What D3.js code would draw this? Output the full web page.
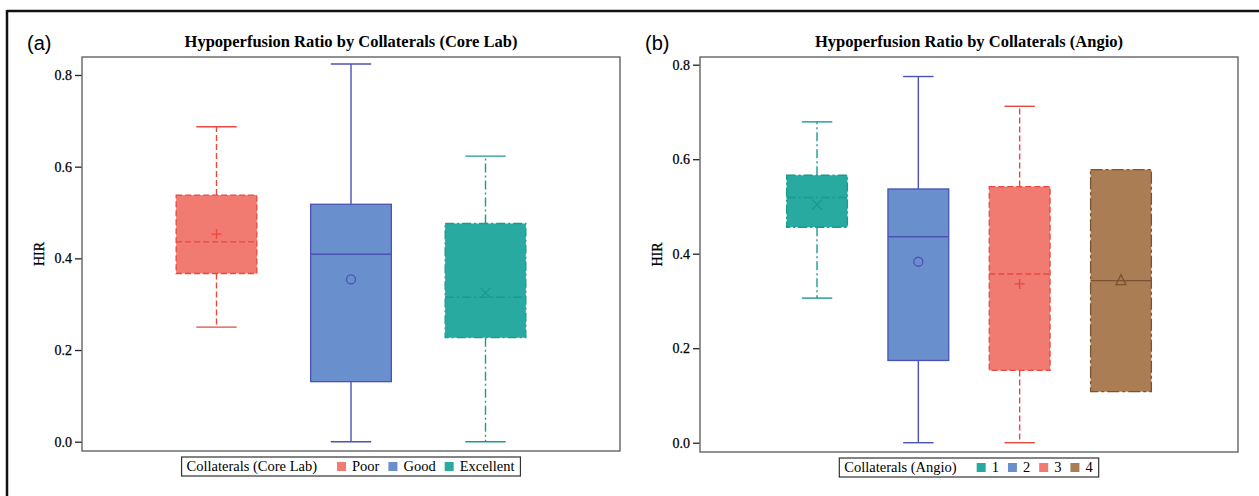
<!DOCTYPE html>
<html>
<head>
<meta charset="utf-8">
<script src="https://cdn.jsdelivr.net/npm/d3@7"></script>
<style>
  body { margin: 0; background: #fff; }
  svg { display: block; }
  .serif { font-family: "Liberation Serif", "Times New Roman", Times, serif; }
  .sans { font-family: "Liberation Sans", Arial, sans-serif; }
</style>
</head>
<body>
<script>
const W = 1259
const H = 496

// panel (a): collaterals scored by core lab
const coreLabCats = ['Poor', 'Good', 'Excellent']
const coreLabLow = [0.25, 0.0, 0.0]
const coreLabQ1 = [0.367, 0.131, 0.227]
const coreLabMedian = [0.436, 0.409, 0.315]
const coreLabQ3 = [0.538, 0.518, 0.476]
const coreLabHigh = [0.687, 0.824, 0.623]
const coreLabMean = [0.453, 0.354, 0.325]

// panel (b): collaterals scored on angio
const angioCats = ['1', '2', '3', '4']
const angioLow = [0.306, 0.0, 0.0, 0.108]
const angioQ1 = [0.456, 0.174, 0.153, 0.108]
const angioMedian = [0.519, 0.436, 0.357, 0.343]
const angioQ3 = [0.566, 0.537, 0.542, 0.578]
const angioHigh = [0.679, 0.775, 0.712, 0.578]
const angioMean = [0.504, 0.383, 0.336, 0.343]

const yTicks = [0, 0.2, 0.4, 0.6, 0.8]

// group styles
const styles = {
    red:   { fill: '#f17b71', stroke: '#e8483f', dash: '6,3', medDash: '6,3', marker: 'plus' },
    blue:  { fill: '#6a8fcd', stroke: '#4b52b3', dash: null, medDash: null, marker: 'circle' },
    teal:  { fill: '#28aaa0', stroke: '#1b9a8f', dash: '9,3,2,3', medDash: '9,3,2,3', marker: 'x' },
    brown: { fill: '#ab7d55', stroke: '#7d5230', dash: '12,3,3,3', medDash: null, marker: 'triangle' }
}

const svg = d3.select('body').append('svg')
    .attr('width', W)
    .attr('height', H)

// outer figure border (top + left only visible)
svg.append('line').attr('x1', 7).attr('x2', W).attr('y1', 11).attr('y2', 11)
    .attr('stroke', '#111').attr('stroke-width', 2.5)
svg.append('line').attr('x1', 7).attr('x2', 7).attr('y1', 10).attr('y2', H)
    .attr('stroke', '#111').attr('stroke-width', 2.5)

function buildPanel (p) {
    const g = svg.append('g')

    const x = d3.scalePoint()
        .domain(p.cats)
        .range([p.x0, p.x1])
        .padding(p.pad)

    const y = d3.scaleLinear()
        .domain([0, 0.8])
        .range([p.yZero, p.yTop])

    const bw = x.step() * 0.6
    const cw = bw / 2

    // panel letter
    g.append('text')
        .attr('class', 'sans')
        .attr('x', p.x0 - 55)
        .attr('y', 50)
        .attr('font-size', 20)
        .text(p.letter)

    g.append('text')
        .attr('class', 'serif')
        .attr('x', (p.x0 + p.x1) / 2)
        .attr('y', 47)
        .attr('text-anchor', 'middle')
        .attr('font-weight', 'bold')
        .attr('font-size', 16.5)
        .text(p.title)

    const yAxis = g.append('g')
        .attr('transform', `translate(${p.x0},0)`)
        .call(d3.axisLeft(y).tickValues(yTicks).tickFormat(d3.format('.1f')).tickSize(7).tickPadding(3))
    yAxis.attr('font-family', null)
    yAxis.select('.domain').remove()
    yAxis.selectAll('line').attr('stroke', '#222').attr('stroke-width', 1.3)
    yAxis.selectAll('text')
        .attr('class', 'serif')
        .attr('font-size', 14)
        .attr('fill', '#000')
        .attr('stroke', '#000')
        .attr('stroke-width', 0.25)

    g.append('text')
        .attr('class', 'serif')
        .attr('transform', `translate(${p.x0 - 38},${(p.y0 + p.y1) / 2}) rotate(-90)`)
        .attr('text-anchor', 'middle')
        .attr('font-size', 14)
        .attr('stroke', '#000')
        .attr('stroke-width', 0.25)
        .text('HIR')

    p.cats.forEach(function (c, i) {
        const s = styles[p.colors[i]]
        const cx = x(c)
        const b = g.append('g')

        // whiskers
        if (p.high[i] > p.q3[i]) {
            b.append('line').attr('x1', cx).attr('x2', cx)
                .attr('y1', y(p.q3[i])).attr('y2', y(p.high[i]))
                .attr('stroke', s.stroke).attr('stroke-width', 1.4).attr('stroke-dasharray', s.dash)
            b.append('line').attr('x1', cx - cw / 2).attr('x2', cx + cw / 2)
                .attr('y1', y(p.high[i])).attr('y2', y(p.high[i]))
                .attr('stroke', s.stroke).attr('stroke-width', 1.4)
        }
        if (p.low[i] < p.q1[i]) {
            b.append('line').attr('x1', cx).attr('x2', cx)
                .attr('y1', y(p.q1[i])).attr('y2', y(p.low[i]))
                .attr('stroke', s.stroke).attr('stroke-width', 1.4).attr('stroke-dasharray', s.dash)
            b.append('line').attr('x1', cx - cw / 2).attr('x2', cx + cw / 2)
                .attr('y1', y(p.low[i])).attr('y2', y(p.low[i]))
                .attr('stroke', s.stroke).attr('stroke-width', 1.4)
        }

        // box
        b.append('rect')
            .attr('x', cx - bw / 2)
            .attr('y', y(p.q3[i]))
            .attr('width', bw)
            .attr('height', y(p.q1[i]) - y(p.q3[i]))
            .attr('fill', s.fill)
            .attr('stroke', s.stroke)
            .attr('stroke-width', 1.3)
            .attr('stroke-dasharray', s.dash)

        // median
        b.append('line')
            .attr('x1', cx - bw / 2).attr('x2', cx + bw / 2)
            .attr('y1', y(p.median[i])).attr('y2', y(p.median[i]))
            .attr('stroke', s.stroke).attr('stroke-width', 1.4).attr('stroke-dasharray', s.medDash)

        // mean marker
        const my = y(p.mean[i])
        const r = 5
        if (s.marker === 'plus') {
            b.append('path').attr('d', `M${cx - r},${my}H${cx + r}M${cx},${my - r}V${my + r}`)
                .attr('stroke', s.stroke).attr('stroke-width', 1.3).attr('fill', 'none')
        } else if (s.marker === 'x') {
            b.append('path').attr('d', `M${cx - r},${my - r}L${cx + r},${my + r}M${cx - r},${my + r}L${cx + r},${my - r}`)
                .attr('stroke', s.stroke).attr('stroke-width', 1.3).attr('fill', 'none')
        } else if (s.marker === 'circle') {
            b.append('circle').attr('cx', cx).attr('cy', my).attr('r', r - 0.5)
                .attr('stroke', s.stroke).attr('stroke-width', 1.3).attr('fill', 'none')
        } else {
            b.append('path').attr('d', `M${cx},${my - r - 1}L${cx + r},${my + r - 1}L${cx - r},${my + r - 1}Z`)
                .attr('stroke', s.stroke).attr('stroke-width', 1.3).attr('fill', 'none')
        }
    })

    // plot frame
    g.append('rect')
        .attr('x', p.x0).attr('y', p.y0)
        .attr('width', p.x1 - p.x0).attr('height', p.y1 - p.y0)
        .attr('fill', 'none')
        .attr('stroke', '#6e6e6e')
        .attr('stroke-width', 1.5)

    // legend
    const lg = g.append('g')
    let lx = 5
    const t0 = lg.append('text').attr('class', 'serif').attr('x', lx).attr('y', 14)
        .attr('font-size', 14.5).text(p.legendTitle)
    lx += t0.node().getComputedTextLength() + 20
    p.cats.forEach(function (c, i) {
        const s = styles[p.colors[i]]
        lg.append('rect').attr('x', lx).attr('y', 5).attr('width', 9).attr('height', 9)
            .attr('fill', s.fill)
        lx += 15
        const t = lg.append('text').attr('class', 'serif').attr('x', lx).attr('y', 14)
            .attr('font-size', 14.5).text(c)
        lx += t.node().getComputedTextLength() + 9
    })
    lx += -3
    lg.insert('rect', ':first-child')
        .attr('x', 0).attr('y', 0).attr('width', lx).attr('height', 19)
        .attr('fill', '#fff').attr('stroke', '#333').attr('stroke-width', 1.2)
    lg.attr('transform', `translate(${(p.x0 + p.x1) / 2 - lx / 2},${p.legendY})`)
}

buildPanel({
    letter: '(a)',
    title: 'Hypoperfusion Ratio by Collaterals (Core Lab)',
    legendTitle: 'Collaterals (Core Lab)',
    cats: coreLabCats,
    low: coreLabLow, q1: coreLabQ1, median: coreLabMedian,
    q3: coreLabQ3, high: coreLabHigh, mean: coreLabMean,
    colors: ['red', 'blue', 'teal'],
    x0: 82, x1: 620, y0: 57, y1: 451,
    yZero: 441.7, yTop: 75,
    pad: 1,
    legendY: 457
})

buildPanel({
    letter: '(b)',
    title: 'Hypoperfusion Ratio by Collaterals (Angio)',
    legendTitle: 'Collaterals (Angio)',
    cats: angioCats,
    low: angioLow, q1: angioQ1, median: angioMedian,
    q3: angioQ3, high: angioHigh, mean: angioMean,
    colors: ['teal', 'blue', 'red', 'brown'],
    x0: 700, x1: 1238, y0: 57, y1: 452,
    yZero: 442.7, yTop: 64.7,
    pad: 1.155,
    legendY: 458
})
</script>
</body>
</html>
